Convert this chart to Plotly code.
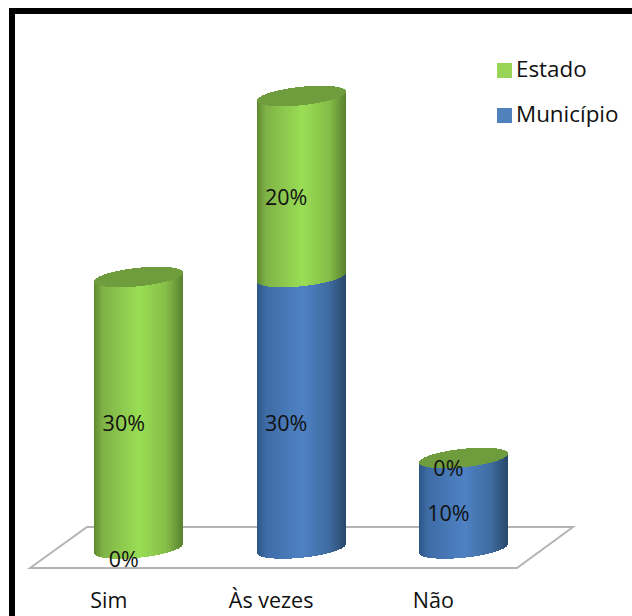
import numpy as np
import plotly.graph_objects as go

categories = ["Sim", "Às vezes", "Não"]
municipio = [0, 30, 10]
estado = [30, 20, 0]
tick_labels = categories
legend_names = ["Estado", "Município"]

W, H = 632, 616
PLOT_BOTTOM = 575
X0, DX = 138.8, 162.3      # px of first cylinder, px between cylinders
Y0, SY = 548.5, 9.05       # px of value 0, px per percent
RX, RY, TILT = 44.0, 9.2, 4.5
FONT = "Open Sans"
FS = 21.5
TXT = "#111111"

GREEN_STOPS = ["#5f8a30", "#7fb347", "#9ade55", "#85bd48", "#5c8430"]
BLUE_STOPS = ["#2e5787", "#3f6ca6", "#4f82c4", "#3f6b9f", "#2a4a6e"]
STOP_POS = [-1, -0.8, 0.03, 0.65, 1]
CAP = "#6f9c3d"
LEG_GREEN, LEG_BLUE = "#98d455", "#4f81bd"


def rgb(h):
    return [int(h[i:i + 2], 16) for i in (1, 3, 5)]


def shade(stops, u):
    c = np.array([rgb(s) for s in stops])
    return "rgb(%d,%d,%d)" % tuple(np.interp(u, STOP_POS, c[:, k]) for k in range(3))


us = (np.arange(int(2 * RX)) + 0.5) / RX - 1
front = (RY * np.sqrt(1 - us**2) - TILT * us) / SY   # px below centre -> value units
back = (-RY * np.sqrt(1 - us**2) - TILT * us) / SY


def body(vals, bases, stops, name):
    xs, b, h, col = [], [], [], []
    for i, (v, base) in enumerate(zip(vals, bases)):
        if v == 0:
            continue
        for u, f in zip(us, front):
            xs.append(i + u * RX / DX)
            b.append(base - f)
            h.append(v)
            col.append(shade(stops, u))
    return go.Bar(x=xs, y=h, base=b, width=1.02 / DX, name=name, showlegend=False,
                  marker=dict(color=col, line=dict(width=0)), hoverinfo="skip")


totals = [m + e for m, e in zip(municipio, estado)]
fig = go.Figure()
fig.add_trace(body(municipio, [0, 0, 0], BLUE_STOPS, "Município"))
fig.add_trace(body(estado, municipio, GREEN_STOPS, "Estado"))

cx, cb, ch = [], [], []
for i, t in enumerate(totals):
    for u, f, k in zip(us, front, back):
        cx.append(i + u * RX / DX)
        cb.append(t - f)
        ch.append(f - k)
fig.add_trace(go.Bar(x=cx, y=ch, base=cb, width=1.02 / DX, showlegend=False,
                     marker=dict(color=CAP, line=dict(width=0)), hoverinfo="skip"))

# data labels
lx, ly, lt = [], [], []
for i in range(3):
    lx += [i - 15 / DX, i - 15 / DX]
    ly += [municipio[i] / 2 - 1.4, municipio[i] + estado[i] / 2 - 1.4]
    lt += [f"{municipio[i]}%", f"{estado[i]}%"]
fig.add_trace(go.Scatter(x=lx, y=ly, text=lt, mode="text", showlegend=False,
                         textfont=dict(family=FONT, size=FS, color=TXT),
                         cliponaxis=False, hoverinfo="skip"))


# legend: swatch plus label placed close together, as in the reference
def data_x(p):
    return (p - X0) / DX


def data_y(p):
    return (Y0 - p) / SY


for nm, c, ypx in zip(legend_names, [LEG_GREEN, LEG_BLUE], [70.5, 115.5]):
    fig.add_trace(go.Scatter(x=[data_x(504.5)], y=[data_y(ypx)], name=nm, mode="markers",
                             marker=dict(symbol="square", size=15, color=c),
                             cliponaxis=False, showlegend=False, hoverinfo="skip"))
    fig.add_trace(go.Scatter(x=[data_x(516)], y=[data_y(ypx + 0.5)], text=[nm], mode="text",
                             textposition="middle right",
                             textfont=dict(family=FONT, size=22.4, color=TXT),
                             cliponaxis=False, showlegend=False, hoverinfo="skip"))


def px(x):
    return x / W


def py(y):
    return (PLOT_BOTTOM - y) / PLOT_BOTTOM


floor = [(30, 568), (87, 527), (573, 527), (517, 568)]
path = "M " + " L ".join(f"{px(a):.4f} {py(b):.4f}" for a, b in floor) + " Z"
shapes = [
    dict(type="path", path=path, xref="paper", yref="paper", layer="below",
         line=dict(color="#b4b4b4", width=2), fillcolor="white"),
    dict(type="rect", xref="paper", yref="paper", x0=px(9), x1=px(15), y0=py(616), y1=py(8),
         fillcolor="black", line=dict(width=0), layer="above"),
    dict(type="rect", xref="paper", yref="paper", x0=px(9), x1=1, y0=py(14), y1=py(8),
         fillcolor="black", line=dict(width=0), layer="above"),
]

fig.update_layout(
    width=W, height=H, barmode="overlay", bargap=0, showlegend=False,
    margin=dict(l=0, r=0, t=0, b=H - PLOT_BOTTOM, autoexpand=False),
    paper_bgcolor="white", plot_bgcolor="rgba(0,0,0,0)",
    shapes=shapes,
    font=dict(family=FONT, size=FS, color=TXT),
    xaxis=dict(range=[-X0 / DX, (W - X0) / DX], tickmode="array",
               tickvals=[i - 30 / DX for i in range(3)], ticktext=tick_labels,
               ticks="outside", ticklen=6, tickcolor="rgba(0,0,0,0)",
               showgrid=False, zeroline=False, showline=False,
               tickfont=dict(family=FONT, size=FS, color=TXT)),
    yaxis=dict(range=[(Y0 - PLOT_BOTTOM) / SY, Y0 / SY], visible=False),
)
fig.write_html("out.html", config=dict(displayModeBar=False),
               post_script="document.body.style.margin='0';document.body.style.overflow='hidden';")
